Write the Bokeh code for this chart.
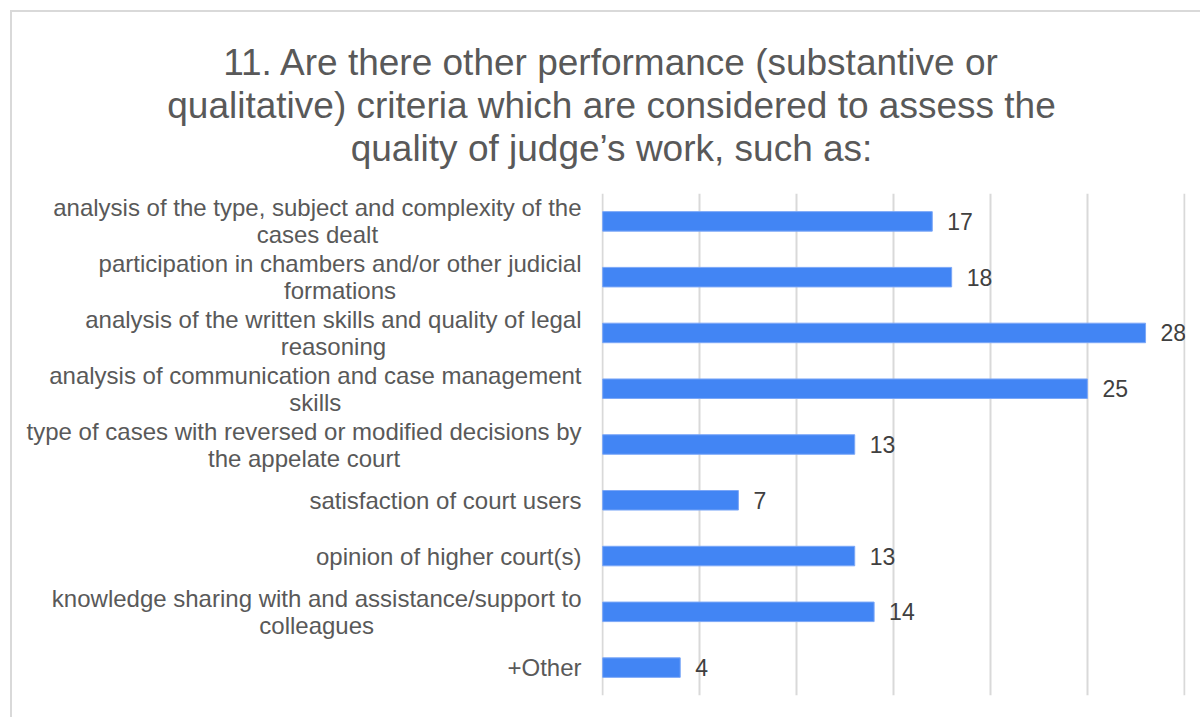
from bokeh.plotting import figure
from bokeh.layouts import column, row
from bokeh.models import FactorRange, Range1d, FixedTicker, LabelSet, ColumnDataSource, Title, Text
from bokeh.core.properties import value
from bokeh.embed import file_html
from bokeh.resources import INLINE

title_lines = [
    "11. Are there other performance (substantive or",
    "qualitative) criteria which are considered to assess the",
    "quality of judge\u2019s work, such as:",
]
categories = [
    "analysis of the type, subject and complexity of the\ncases dealt",
    "participation in chambers and/or other judicial\nformations",
    "analysis of the written skills and quality of legal\nreasoning",
    "analysis of communication and case management\nskills",
    "type of cases with reversed or modified decisions by\nthe appelate court",
    "satisfaction of court users",
    "opinion of higher court(s)",
    "knowledge sharing with and assistance/support to\ncolleagues",
    "+Other",
]
values = [17, 18, 28, 25, 13, 7, 13, 14, 4]
grid_ticks = [0, 5, 10, 15, 20, 25, 30]

src = ColumnDataSource(dict(cat=categories, val=values, lbl=[str(v) for v in values]))
y_range = FactorRange(*reversed(categories))

def bare(fig):
    fig.outline_line_color = None
    fig.background_fill_color = "white"
    fig.border_fill_color = "white"
    fig.xgrid.grid_line_color = None
    fig.ygrid.grid_line_color = None
    fig.xaxis.visible = False
    fig.yaxis.visible = False

# ---- title strip ----
tf = figure(width=1188, height=181, output_backend="svg", toolbar_location=None,
            x_range=Range1d(0, 1), y_range=Range1d(0, 1),
            min_border_left=10, min_border_right=0, min_border_top=156, min_border_bottom=0)
bare(tf)
for t in reversed(title_lines):
    tf.add_layout(Title(text=t, align="center", standoff=0, text_font="Liberation Sans",
                        text_font_size="37px", text_font_style="normal",
                        text_line_height=1.27, text_color="#595959"), "above")

# ---- category labels ----
lf = figure(width=589, height=524, output_backend="svg", toolbar_location=None,
            x_range=Range1d(0, 589), y_range=y_range,
            min_border_left=0, min_border_right=0, min_border_top=0, min_border_bottom=22)
bare(lf)
label_kw = dict(text_font=value("Liberation Sans"), text_font_size="24px", text_line_height=1.0,
                text_color="#595959", text_baseline="middle")
if "anchor" in Text.properties():
    label_kw.update(anchor="center_right", text_align="center")
else:
    label_kw.update(text_align="right")
lf.text(x=569, y="cat", text="cat", source=src, **label_kw)

# ---- bars ----
p = figure(width=599, height=524, output_backend="svg", toolbar_location=None,
           y_range=y_range, x_range=Range1d(-0.06, 30.06),
           min_border_left=0, min_border_right=15, min_border_top=0, min_border_bottom=22)
bare(p)
p.hbar(y="cat", right="val", left=0, height=0.35, source=src, color="#4285F4",
       line_color="#7BA7F7", line_width=1)
p.xgrid.grid_line_color = "#d9d9d9"
p.xgrid.grid_line_width = 2
p.xgrid.ticker = FixedTicker(ticks=grid_ticks)

labels = LabelSet(x="val", y="cat", text="lbl", source=src, x_offset=15, y_offset=0,
                  text_baseline="middle", text_font=value("Liberation Sans"),
                  text_font_size="23px", text_color="#404040")
p.add_layout(labels)

layout = column(tf, row(lf, p, spacing=0), spacing=0,
                styles={"margin-left": "10px", "margin-top": "10px",
                        "border-left": "2px solid #d9d9d9", "border-top": "2px solid #d9d9d9"})

open("out.html", "w").write(file_html(layout, INLINE))
